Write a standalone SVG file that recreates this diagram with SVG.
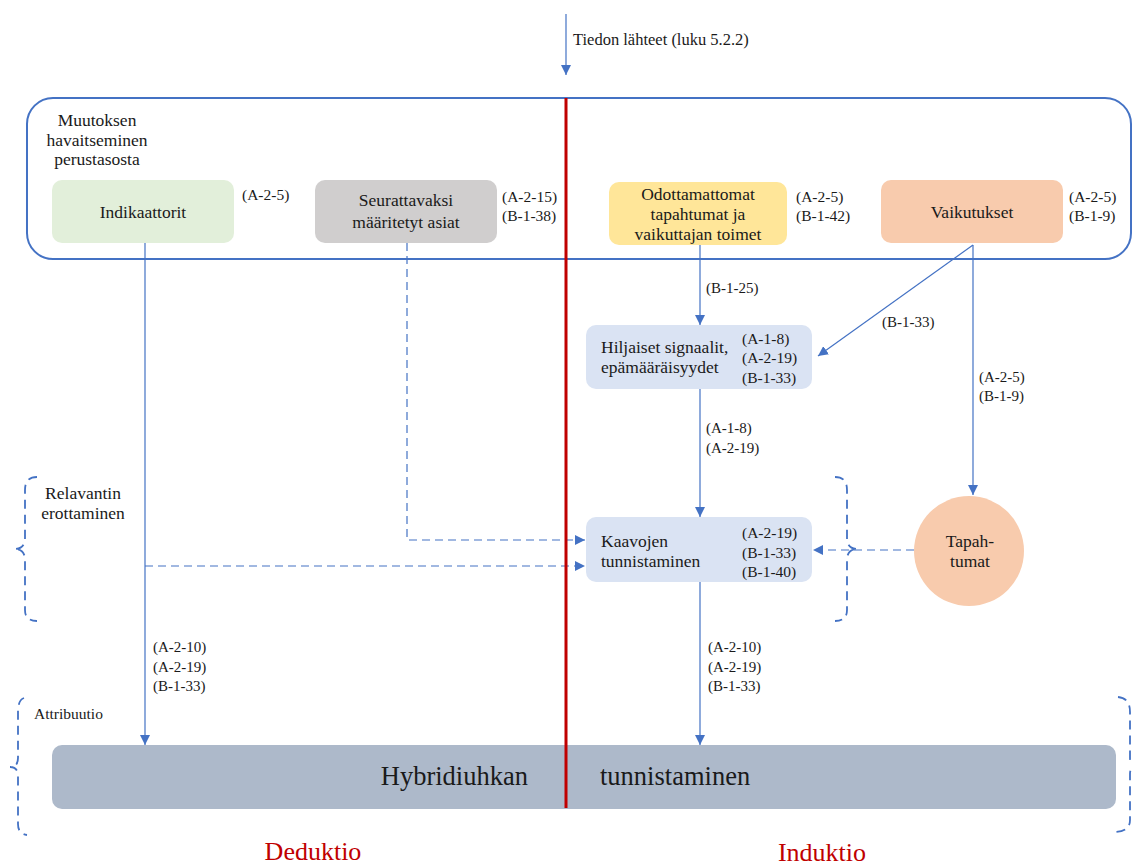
<svg xmlns="http://www.w3.org/2000/svg" width="1132" height="867" viewBox="0 0 1132 867">
<style>
text{font-family:"Liberation Serif","Times New Roman",serif;fill:#1a1a1a}
.t{font-size:17.5px}
.r{font-size:15.5px}
.s{font-size:15px}
.h{font-size:16.5px}
.big{font-size:26.5px}
.red{font-size:26px;fill:#C00000}
.c{stroke:#4472C4;stroke-width:1.2;fill:none}
.d{stroke:#4472C4;stroke-width:1.2;fill:none;stroke-dasharray:8 5}
.b{stroke:#4472C4;stroke-width:1.8;fill:none;stroke-dasharray:9 6}
</style>
<defs>
<marker id="ah" viewBox="0 0 10 10" refX="10" refY="5" markerWidth="10" markerHeight="10" markerUnits="userSpaceOnUse" orient="auto">
<path d="M0,0 L10,5 L0,10 z" fill="#4472C4"/>
</marker>
</defs>
<rect width="1132" height="867" fill="#fff"/>

<g id="frame">
<rect x="27" y="98" width="1104" height="161" rx="26" fill="none" stroke="#4472C4" stroke-width="2"/>
<text class="t" x="97" y="126" text-anchor="middle">Muutoksen</text>
<text class="t" x="97" y="146" text-anchor="middle">havaitseminen</text>
<text class="t" x="97" y="165" text-anchor="middle">perustasosta</text>
</g>

<g id="indikaattorit">
<rect x="52" y="180" width="182" height="63" rx="10" fill="#E2EFDA"/>
<text class="t" x="143" y="218" text-anchor="middle">Indikaattorit</text>
<text class="r" x="242" y="200">(A-2-5)</text>
</g>

<g id="seurattavaksi">
<rect x="315" y="180" width="182" height="63" rx="10" fill="#D0CECE"/>
<text class="t" x="406" y="206" text-anchor="middle">Seurattavaksi</text>
<text class="t" x="406" y="228" text-anchor="middle">määritetyt asiat</text>
<text class="r" x="502" y="202">(A-2-15)</text>
<text class="r" x="502" y="221">(B-1-38)</text>
</g>

<g id="odottamattomat">
<rect x="609" y="182" width="178" height="63" rx="10" fill="#FFE699"/>
<text class="t" x="698" y="200" text-anchor="middle">Odottamattomat</text>
<text class="t" x="698" y="220" text-anchor="middle">tapahtumat ja</text>
<text class="t" x="698" y="240" text-anchor="middle">vaikuttajan toimet</text>
<text class="r" x="796" y="202">(A-2-5)</text>
<text class="r" x="796" y="221">(B-1-42)</text>
</g>

<g id="vaikutukset">
<rect x="881" y="180" width="182" height="63" rx="10" fill="#F8CBAD"/>
<text class="t" x="972" y="218" text-anchor="middle">Vaikutukset</text>
<text class="r" x="1069" y="202">(A-2-5)</text>
<text class="r" x="1069" y="221">(B-1-9)</text>
</g>

<g id="hiljaiset">
<rect x="586" y="325" width="226" height="64" rx="10" fill="#DAE3F3"/>
<text class="t" x="601" y="353">Hiljaiset signaalit,</text>
<text class="t" x="601" y="373">epämääräisyydet</text>
<text class="r" x="742" y="344">(A-1-8)</text>
<text class="r" x="742" y="363">(A-2-19)</text>
<text class="r" x="742" y="383">(B-1-33)</text>
</g>

<g id="kaavojen">
<rect x="586" y="517" width="226" height="65" rx="10" fill="#DAE3F3"/>
<text class="t" x="601" y="547">Kaavojen</text>
<text class="t" x="601" y="567">tunnistaminen</text>
<text class="r" x="742" y="538">(A-2-19)</text>
<text class="r" x="742" y="558">(B-1-33)</text>
<text class="r" x="742" y="577">(B-1-40)</text>
</g>

<g id="tapahtumat">
<circle cx="969" cy="551" r="55" fill="#F8CBAD"/>
<text class="t" x="970" y="547" text-anchor="middle">Tapah-</text>
<text class="t" x="970" y="567" text-anchor="middle">tumat</text>
</g>

<g id="hybridiuhkan">
<rect x="52" y="745" width="1064" height="64" rx="10" fill="#ADB9CA"/>
<text class="big" x="528" y="785" text-anchor="end">Hybridiuhkan</text>
<text class="big" x="600" y="785">tunnistaminen</text>
</g>

<g id="labels">
<text class="h" x="573" y="45">Tiedon lähteet (luku 5.2.2)</text>
<text class="t" x="83" y="499" text-anchor="middle">Relavantin</text>
<text class="t" x="83" y="519" text-anchor="middle">erottaminen</text>
<text class="r" x="34" y="719">Attribuutio</text>
<text class="red" x="313" y="860" text-anchor="middle">Deduktio</text>
<text class="red" x="822" y="861" text-anchor="middle">Induktio</text>
</g>

<g id="connectors">
<line class="c" x1="566" y1="14" x2="566" y2="75" marker-end="url(#ah)"/>
<line class="c" x1="700" y1="245" x2="700" y2="325" marker-end="url(#ah)"/>
<text class="s" x="706" y="293">(B-1-25)</text>
<line class="c" x1="973" y1="245" x2="818" y2="356" marker-end="url(#ah)"/>
<text class="s" x="882" y="327">(B-1-33)</text>
<line class="c" x1="973" y1="245" x2="973" y2="495" marker-end="url(#ah)"/>
<text class="s" x="979" y="382">(A-2-5)</text>
<text class="s" x="979" y="401">(B-1-9)</text>
<line class="c" x1="700" y1="389" x2="700" y2="517" marker-end="url(#ah)"/>
<text class="s" x="706" y="433">(A-1-8)</text>
<text class="s" x="706" y="453">(A-2-19)</text>
<polyline class="d" points="407,243 407,540 585,540" marker-end="url(#ah)"/>
<line class="d" x1="145" y1="566" x2="585" y2="566" marker-end="url(#ah)"/>
<line class="d" x1="914" y1="550" x2="813" y2="550" marker-end="url(#ah)"/>
<line class="c" x1="145" y1="243" x2="145" y2="745" marker-end="url(#ah)"/>
<text class="s" x="153" y="652">(A-2-10)</text>
<text class="s" x="153" y="672">(A-2-19)</text>
<text class="s" x="153" y="691">(B-1-33)</text>
<line class="c" x1="700" y1="582" x2="700" y2="745" marker-end="url(#ah)"/>
<text class="s" x="708" y="652">(A-2-10)</text>
<text class="s" x="708" y="672">(A-2-19)</text>
<text class="s" x="708" y="691">(B-1-33)</text>
<line x1="566" y1="98" x2="566" y2="808" stroke="#C00000" stroke-width="3"/>
</g>

<g id="braces">
<path class="b" d="M37,477 Q25,477 25,490 L25,538 Q25,549 14,549 Q25,549 25,560 L25,610 Q25,621 37,621"/>
<path class="b" d="M835,477 Q847,477 847,490 L847,538 Q847,549 858,549 Q847,549 847,560 L847,610 Q847,621 835,621"/>
<path class="b" d="M24,698 Q18,700 18,712 L18,758 Q18,767 10,767 Q18,767 18,776 L18,824 Q18,834 27,835"/>
<path class="b" d="M1118,697 Q1130,698 1130,712 L1130,758 Q1130,766 1138,766 Q1130,766 1130,774 L1130,820 Q1130,831 1116,832"/>
</g>
</svg>
